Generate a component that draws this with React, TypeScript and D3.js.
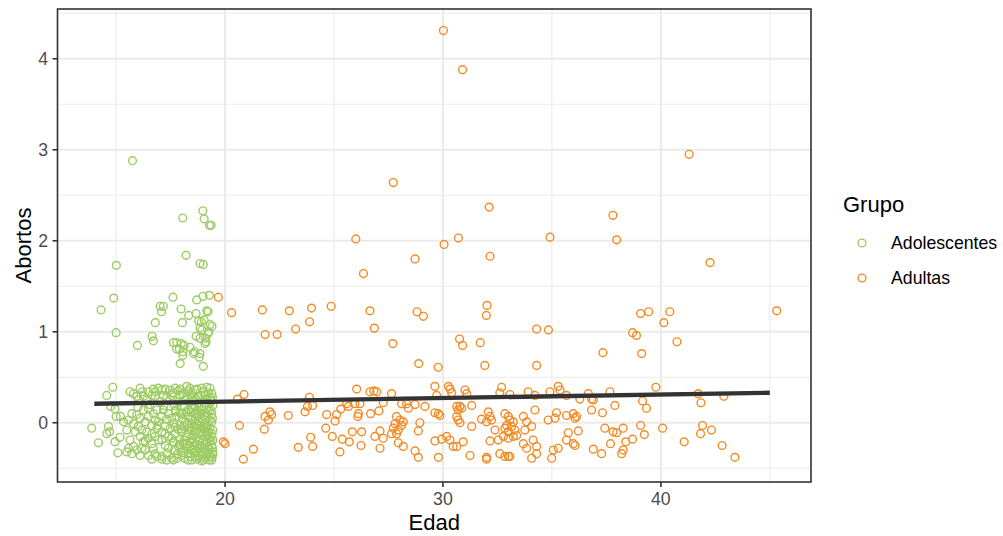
import React from "react";
import * as d3 from "d3";

const adolescentes: [number, number][] = [
  [15.75, 2.88], [18.06, 2.25], [18.98, 2.33], [19.04, 2.24], [19.28, 2.17], [19.36, 2.17],
  [18.21, 1.84], [18.85, 1.75], [19.0, 1.74], [15.01, 1.73], [14.89, 1.37], [14.31, 1.24],
  [15.0, 0.99], [15.98, 0.85], [16.65, 0.95], [16.71, 0.9], [16.8, 1.1], [17.02, 1.28],
  [17.17, 1.28], [17.08, 1.22], [17.61, 1.38], [17.98, 1.25], [18.04, 1.1], [18.33, 1.18],
  [18.7, 1.35], [18.99, 1.39], [19.28, 1.4], [18.67, 1.2], [18.79, 1.12], [18.91, 1.11],
  [19.04, 1.13], [19.16, 1.23], [19.22, 1.22], [19.31, 1.08], [19.4, 1.06], [19.25, 1.0],
  [18.85, 1.04], [18.94, 1.02], [18.67, 0.95], [18.85, 0.93], [19.1, 0.93], [19.13, 0.89],
  [17.63, 0.88], [17.78, 0.88], [17.99, 0.87], [18.12, 0.85], [17.78, 0.81], [17.9, 0.81],
  [18.06, 0.78], [18.39, 0.83], [18.06, 0.74], [18.61, 0.78], [18.85, 0.76], [18.82, 0.72],
  [17.94, 0.65], [19.0, 0.62], [19.23, 0.98], [19.08, 0.87], [18.55, 0.76],
  // lower band, left part
  [13.88, -0.06], [14.19, -0.22], [14.57, 0.3], [14.85, 0.39], [14.75, 0.18], [14.95, 0.15],
  [15.0, 0.07], [15.2, 0.07], [14.65, -0.04], [14.7, -0.1], [14.57, -0.12], [14.95, -0.21],
  [15.18, -0.16], [15.08, -0.33],
  // lower band rows
  [15.8, 0.32], [16.1, 0.38], [16.21, 0.34], [16.48, 0.34], [16.71, 0.37], [16.94, 0.38],
  [17.1, 0.36], [17.25, 0.37], [17.48, 0.36], [17.71, 0.38], [17.94, 0.37], [18.24, 0.4],
  [18.39, 0.38], [18.62, 0.36], [18.93, 0.38], [19.16, 0.39], [19.31, 0.38], [19.39, 0.32],
  [15.95, 0.29], [16.25, 0.29], [16.64, 0.3], [16.79, 0.29], [17.17, 0.3], [17.55, 0.3],
  [17.94, 0.3], [18.24, 0.29], [18.47, 0.3], [18.78, 0.29], [19.08, 0.3], [19.31, 0.27],
  [15.72, 0.1], [15.95, 0.09], [16.25, 0.14], [16.48, 0.16], [16.71, 0.1], [16.87, 0.14],
  [17.17, 0.14], [17.4, 0.1], [17.71, 0.14], [18.01, 0.1], [18.32, 0.14], [18.62, 0.1],
  [18.93, 0.14], [19.24, 0.14], [19.39, 0.1],
  [15.8, -0.01], [16.02, -0.04], [16.33, 0.01], [16.64, -0.03], [16.94, 0.01], [17.25, -0.04],
  [17.63, -0.01], [17.94, -0.03], [18.17, 0.01], [18.47, -0.01], [18.78, 0.01], [19.08, -0.01],
  [19.39, 0.01],
  [15.87, -0.1], [16.18, -0.08], [16.64, -0.12], [17.1, -0.1], [17.4, -0.15], [17.71, -0.12],
  [18.01, -0.1], [18.32, -0.12], [18.62, -0.1], [18.93, -0.14], [19.24, -0.1], [19.39, -0.15],
  [15.57, -0.28], [15.8, -0.26], [16.25, -0.21], [16.64, -0.23], [16.94, -0.19], [17.25, -0.25],
  [17.63, -0.21], [17.86, -0.26], [18.24, -0.23], [18.55, -0.21], [18.85, -0.25], [19.16, -0.21],
  [19.39, -0.25],
  [15.49, -0.32], [15.72, -0.34], [15.95, -0.3], [16.33, -0.3], [16.71, -0.28], [16.79, -0.34],
  [17.1, -0.37], [17.55, -0.39], [17.78, -0.39], [18.01, -0.36], [18.32, -0.34], [18.62, -0.37],
  [18.93, -0.36], [19.16, -0.34], [19.31, -0.37], [19.39, -0.41],
  [16.64, -0.4], [17.1, -0.4], [17.63, -0.41], [18.47, -0.41], [18.93, -0.42], [19.27, -0.41],
  // dense block 17.3-19.45
  [17.48, 0.25], [17.68, 0.19], [17.89, 0.23], [18.14, 0.18], [18.35, 0.22], [18.59, 0.18],
  [18.81, 0.22], [19.04, 0.18], [19.27, 0.21], [19.44, 0.19],
  [17.55, 0.05], [17.78, 0.07], [18.04, 0.05], [18.29, 0.07], [18.5, 0.04], [18.75, 0.07],
  [18.96, 0.05], [19.2, 0.06], [19.42, 0.05],
  [17.48, -0.06], [17.83, -0.07], [18.09, -0.04], [18.35, -0.06], [18.59, -0.04], [18.85, -0.06],
  [19.05, -0.08], [19.31, -0.06],
  [17.55, -0.17], [17.94, -0.18], [18.2, -0.16], [18.44, -0.17], [18.7, -0.16], [19.01, -0.19],
  [19.27, -0.17], [19.44, -0.19],
  [17.4, -0.28], [17.68, -0.3], [17.98, -0.29], [18.24, -0.28], [18.5, -0.3], [18.75, -0.28],
  [19.01, -0.29], [19.27, -0.29], [19.44, -0.32],
  [17.33, -0.34], [18.14, -0.39], [18.7, -0.4], [19.11, -0.39], [19.44, -0.35],
  [18.2, 0.25], [19.16, 0.26], [18.55, 0.24], [18.88, -0.03], [19.19, -0.04], [18.39, -0.26],
  [18.09, -0.23], [18.93, -0.26],
  [17.62, 0.33], [17.85, 0.35], [18.05, 0.32], [18.3, 0.35], [18.52, 0.33], [18.72, 0.37],
  [19.0, 0.34], [19.22, 0.33], [19.42, 0.28],
  [17.75, 0.13], [17.92, 0.11], [18.2, 0.12], [18.44, 0.12], [18.7, 0.13], [18.88, 0.1],
  [19.12, 0.11], [19.35, 0.14],
  [17.7, -0.05], [17.98, -0.07], [18.25, -0.02], [18.46, -0.08], [18.72, -0.02], [19.0, -0.05],
  [19.44, -0.08],
  [17.66, -0.22], [17.9, -0.24], [18.12, -0.19], [18.38, -0.21], [18.62, -0.25], [18.8, -0.2],
  [19.08, -0.24], [19.33, -0.21],
  [17.8, -0.35], [18.08, -0.33], [18.4, -0.37], [18.58, -0.33], [18.86, -0.39], [19.2, -0.32],
  [19.4, -0.38], [18.3, -0.41], [19.0, -0.41],
  [18.45, 0.27], [18.68, 0.26], [18.9, 0.3], [19.1, 0.22], [19.38, 0.24], [18.5, 0.16],
  [18.8, 0.17], [19.05, 0.08], [19.28, 0.02], [18.6, 0.02], [18.95, -0.1], [19.15, -0.14],
  [19.4, -0.12], [18.55, -0.14], [18.78, -0.11], [19.2, -0.27], [18.95, -0.32], [18.68, -0.31],
  [19.42, -0.28], [18.45, -0.3], [19.1, -0.05], [18.4, 0.05],
  // middle block 15.3-17.3
  [15.64, 0.34], [16.02, 0.25], [16.41, 0.25], [16.79, 0.34], [17.02, 0.23], [17.32, 0.27],
  [15.57, 0.03], [16.1, 0.05], [16.48, 0.07], [16.79, 0.03], [17.1, 0.07], [17.32, 0.04],
  [15.64, -0.19], [16.1, -0.15], [16.48, -0.17], [16.79, -0.15], [17.1, -0.19],
  [16.1, -0.36], [16.48, -0.36], [16.87, -0.37], [17.32, -0.41], [16.41, -0.1], [15.49, -0.08],
  [15.34, 0.01], [16.87, -0.06], [16.18, -0.28],
  [16.55, 0.2], [16.9, -0.03], [17.2, 0.19], [16.35, -0.2], [17.25, -0.12], [16.0, 0.17],
];

const adultas: [number, number][] = [
  [19.69, 1.38], [20.3, 1.21], [19.92, -0.21], [20.0, -0.23],
  [20.57, 0.26], [20.87, 0.31], [23.87, 0.28], [23.78, 0.18], [24.02, 0.19], [23.67, 0.12],
  [26.04, 0.37], [26.65, 0.34], [26.83, 0.35], [26.96, 0.34], [27.64, 0.32], [25.58, 0.21],
  [25.96, 0.21], [26.19, 0.21], [25.66, 0.18], [27.26, 0.22], [28.1, 0.21], [28.33, 0.21],
  [28.41, 0.16], [28.72, 0.2], [29.17, 0.18], [21.83, 0.07], [22.06, 0.12], [22.14, 0.09],
  [21.99, 0.03], [22.9, 0.08], [20.66, -0.03], [21.8, -0.07], [24.66, 0.09], [25.12, 0.09],
  [25.05, 0.02], [25.31, 0.15], [26.12, 0.1], [26.09, 0.07], [26.68, 0.1], [27.06, 0.13],
  [27.87, 0.07], [28.03, 0.03], [28.18, 0.01], [27.8, -0.01], [27.72, -0.06], [27.95, -0.08],
  [27.87, -0.12], [28.1, -0.03], [28.94, 0.0], [28.87, -0.09], [24.62, -0.06], [24.92, -0.15],
  [25.38, -0.18], [25.7, -0.21], [25.84, -0.1], [26.27, -0.1], [26.88, -0.15], [27.26, -0.17],
  [27.11, -0.09], [27.64, -0.12], [23.93, -0.16], [24.02, -0.26], [23.36, -0.27], [26.24, -0.25],
  [27.11, -0.28], [27.95, -0.22], [28.18, -0.26], [28.72, -0.31], [28.87, -0.38], [25.27, -0.32],
  [21.3, -0.29], [20.84, -0.4],
  [29.63, 0.4], [29.71, 0.3], [30.25, 0.4], [30.32, 0.37], [30.4, 0.33], [31.01, 0.36],
  [31.09, 0.32], [32.69, 0.39], [32.61, 0.33], [33.07, 0.31], [33.91, 0.34], [34.22, 0.3],
  [34.91, 0.34], [35.29, 0.4], [35.37, 0.36], [35.67, 0.3], [36.28, 0.26], [36.67, 0.32],
  [36.82, 0.26], [36.9, 0.25], [29.63, 0.11], [29.79, 0.1], [29.86, 0.08], [30.63, 0.18],
  [30.7, 0.14], [30.78, 0.18], [30.86, 0.16], [31.32, 0.19], [30.63, 0.07], [30.7, 0.03],
  [30.78, 0.0], [32.08, 0.12], [32.16, 0.07], [31.77, 0.04], [32.0, 0.01], [32.23, 0.03],
  [32.84, 0.1], [33.0, 0.07], [33.07, 0.03], [33.23, 0.01], [32.92, -0.03], [32.84, -0.06],
  [33.0, -0.1], [33.15, -0.04], [33.3, -0.08], [33.38, -0.14], [33.69, 0.07], [33.84, 0.01],
  [33.76, -0.08], [34.07, -0.04], [34.22, 0.14], [34.83, 0.03], [35.14, 0.05], [35.21, 0.11],
  [35.67, 0.08], [35.98, 0.1], [36.06, 0.05], [36.13, 0.07], [36.82, 0.14], [31.32, -0.04],
  [32.39, -0.08], [29.63, -0.2], [29.94, -0.18], [30.17, -0.15], [30.32, -0.19], [30.47, -0.26],
  [30.63, -0.26], [30.93, -0.21], [32.16, -0.2], [32.54, -0.19], [32.77, -0.15], [33.0, -0.17],
  [33.23, -0.15], [33.69, -0.23], [34.14, -0.19], [34.3, -0.26], [33.84, -0.28], [35.75, -0.11],
  [36.21, -0.09], [35.67, -0.19], [35.98, -0.23], [36.06, -0.25], [36.9, -0.29], [31.24, -0.36],
  [32.0, -0.38], [32.0, -0.4], [32.61, -0.34], [32.84, -0.37], [33.0, -0.37], [33.07, -0.37],
  [34.07, -0.39], [34.3, -0.34], [34.99, -0.39], [35.06, -0.3], [35.29, -0.28], [29.79, -0.38],
  [37.66, 0.34], [39.77, 0.39], [41.71, 0.32], [42.89, 0.29], [39.16, 0.24], [39.34, 0.16],
  [41.84, 0.22], [37.89, 0.19], [37.32, 0.11], [37.43, -0.06], [37.81, -0.1], [37.97, -0.11],
  [38.27, -0.06], [39.07, -0.03], [39.24, -0.13], [40.08, -0.06], [41.91, -0.03], [41.82, -0.12],
  [42.32, -0.08], [38.39, -0.21], [38.7, -0.18], [37.69, -0.23], [41.07, -0.21], [42.81, -0.25],
  [37.28, -0.34], [38.27, -0.3], [38.2, -0.34], [43.4, -0.38],
  [27.72, 2.64], [32.12, 2.37], [37.8, 2.28], [26.0, 2.02], [30.05, 1.96], [30.71, 2.03],
  [34.91, 2.04], [37.97, 2.01], [28.72, 1.8], [32.16, 1.83], [42.26, 1.76], [26.35, 1.64],
  [21.71, 1.24], [22.95, 1.23], [23.97, 1.26], [24.87, 1.28], [26.65, 1.23], [28.81, 1.22],
  [29.1, 1.17], [32.02, 1.29], [31.99, 1.18], [39.07, 1.2], [39.44, 1.22], [40.41, 1.22],
  [40.14, 1.1], [45.32, 1.23], [23.88, 1.11], [23.24, 1.03], [21.84, 0.97], [22.39, 0.97],
  [26.85, 1.04], [27.7, 0.87], [30.76, 0.92], [30.9, 0.85], [31.71, 0.88], [34.3, 1.03],
  [34.84, 1.02], [38.7, 0.99], [38.88, 0.96], [40.74, 0.89], [37.34, 0.77], [39.12, 0.76],
  [28.89, 0.65], [29.78, 0.61], [31.92, 0.63], [34.3, 0.63],
  [30.02, 4.31], [30.9, 3.88], [41.3, 2.95],
];

// Linear fit (drawn over the unjittered age range)
const fitEdad = [14, 45];
const fitAbortos = [0.209, 0.33];

const xTicks = [20, 30, 40];
const xMinor = [15, 25, 35, 45];
const yTicks = [0, 1, 2, 3, 4];
const yMinor = [-0.5, 0.5, 1.5, 2.5, 3.5, 4.5];
const groups = ["Adolescentes", "Adultas"];
const colors = ["#9ccb62", "#f58a23"];

const W = 1003;
const H = 536;
const P = { left: 57.5, right: 811, top: 9, bottom: 482 };
const FONT = "'Liberation Sans', Arial, Helvetica, sans-serif";
const R = 3.9;
const SW = 1.4;

export default function App() {
  const x = d3.scaleLinear().domain([12.31, 46.89]).range([P.left, P.right]);
  const y = d3.scaleLinear().domain([-0.651, 4.547]).range([P.bottom, P.top]);
  const line = d3
    .line<number>()
    .x((d) => x(d))
    .y((_, i) => y(fitAbortos[i]));
  const series = [adolescentes, adultas];

  return (
    <div style={{ position: "absolute", left: 0, top: 0 }}>
      <svg width={W} height={H} style={{ display: "block", fontFamily: FONT }}>
        <rect x={0} y={0} width={W} height={H} fill="#ffffff" />
        <defs>
          <clipPath id="panel">
            <rect x={P.left} y={P.top} width={P.right - P.left} height={P.bottom - P.top} />
          </clipPath>
        </defs>
        <g clipPath="url(#panel)">
          {yMinor.map((v) => (
            <line key={"ym" + v} x1={P.left} x2={P.right} y1={y(v)} y2={y(v)} stroke="#ebebeb" strokeWidth={1.1} />
          ))}
          {xMinor.map((v) => (
            <line key={"xm" + v} x1={x(v)} x2={x(v)} y1={P.top} y2={P.bottom} stroke="#ebebeb" strokeWidth={1.1} />
          ))}
          {yTicks.map((v) => (
            <line key={"yg" + v} x1={P.left} x2={P.right} y1={y(v)} y2={y(v)} stroke="#ebebeb" strokeWidth={2.1} />
          ))}
          {xTicks.map((v) => (
            <line key={"xg" + v} x1={x(v)} x2={x(v)} y1={P.top} y2={P.bottom} stroke="#ebebeb" strokeWidth={2.1} />
          ))}
          {series.map((pts, gi) =>
            pts.map((d, i) => (
              <circle
                key={gi + "-" + i}
                cx={x(d[0])}
                cy={y(d[1])}
                r={R}
                fill="none"
                stroke={colors[gi]}
                strokeWidth={SW}
              />
            ))
          )}
          <path d={line(fitEdad) || ""} fill="none" stroke="#333333" strokeWidth={4.3} />
        </g>
        <rect
          x={P.left}
          y={P.top}
          width={P.right - P.left}
          height={P.bottom - P.top}
          fill="none"
          stroke="#333333"
          strokeWidth={1.6}
        />
        {xTicks.map((v) => (
          <g key={"xt" + v}>
            <line x1={x(v)} x2={x(v)} y1={P.bottom} y2={P.bottom + 5} stroke="#333333" strokeWidth={1.6} />
            <text x={x(v)} y={505} textAnchor="middle" fontSize={17.7} fill="#4d4d4d">
              {v}
            </text>
          </g>
        ))}
        {yTicks.map((v) => (
          <g key={"yt" + v}>
            <line x1={P.left - 5} x2={P.left} y1={y(v)} y2={y(v)} stroke="#333333" strokeWidth={1.6} />
            <text x={48} y={y(v)} dy="0.36em" textAnchor="end" fontSize={17.7} fill="#4d4d4d">
              {v}
            </text>
          </g>
        ))}
        <text x={(P.left + P.right) / 2} y={530} textAnchor="middle" fontSize={22} fill="#000000">
          Edad
        </text>
        <text
          transform={`translate(31,${(P.top + P.bottom) / 2}) rotate(-90)`}
          textAnchor="middle"
          fontSize={22}
          fill="#000000"
        >
          Abortos
        </text>
        <text x={843} y={212} fontSize={22} fill="#000000">
          Grupo
        </text>
        {groups.map((g, i) => (
          <g key={g}>
            <circle cx={862} cy={243 + i * 35} r={R} fill="none" stroke={colors[i]} strokeWidth={SW} />
            <text x={891} y={243 + i * 35} dy="0.36em" fontSize={17.7} fill="#000000">
              {g}
            </text>
          </g>
        ))}
      </svg>
    </div>
  );
}
